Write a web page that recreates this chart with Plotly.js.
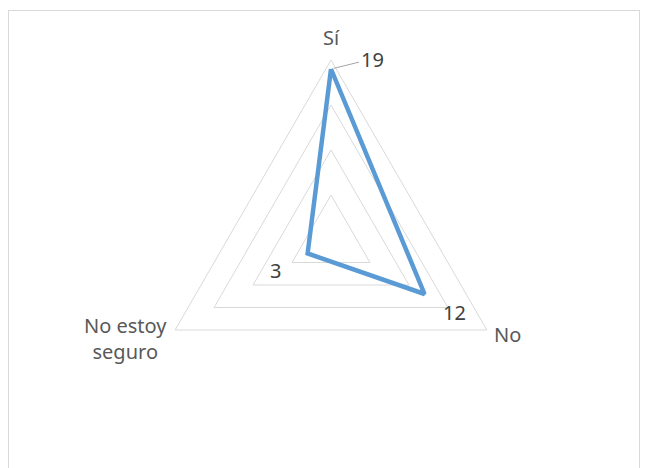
<!DOCTYPE html>
<html>
<head>
<meta charset="utf-8">
<script src="https://cdn.plot.ly/plotly-3.0.1.min.js"></script>
<style>
  html, body { margin: 0; padding: 0; background: #fff; }
  #wrap { position: relative; width: 647px; height: 468px; overflow: hidden; }
  #frame { position: absolute; left: 8px; top: 10px; width: 632px; height: 480px; border: 1px solid #d9d9d9; box-sizing: border-box; }
  #chart { position: absolute; left: 0; top: 0; width: 647px; height: 468px; }
</style>
</head>
<body>
<div id="wrap">
  <div id="frame"></div>
  <div id="chart"></div>
</div>
<script>
const categories = ["Sí", "No", "No estoy seguro"];
const tickLabels = ["Sí", "No", "No estoy<br>seguro"];
const values = [19, 12, 3];
const radialMax = 20;
const radialStep = 5;

// geometry (pixels) of the radar
const W = 647, H = 468;
const CX = 331, CY = 240, RPX = 180;

// styling offsets (pixels) for labels
const catLabelShift = [[0, 22], [21, -5], [-50, -8]];
const valLabelShift = [[41, -10], [30, 18], [-32, 17]];

const FONT = "Noto Sans, sans-serif";

function toPaper(i, v) {
  const ang = i * 2 * Math.PI / categories.length;
  const px = CX + RPX * (v / radialMax) * Math.sin(ang);
  const py = CY - RPX * (v / radialMax) * Math.cos(ang);
  return { x: px / W, y: 1 - py / H };
}

const thetaClosed = categories.concat([categories[0]]);
const rClosed = values.concat([values[0]]);

const trace = {
  type: "scatterpolar",
  r: rClosed,
  theta: thetaClosed,
  mode: "lines",
  line: { color: "#5B9BD5", width: 4.5 },
  hoverinfo: "skip"
};

const annotations = [];
categories.forEach((c, i) => {
  const p = toPaper(i, radialMax);
  annotations.push({
    xref: "paper", yref: "paper", x: p.x, y: p.y,
    text: tickLabels[i], showarrow: false,
    xanchor: "center", yanchor: "middle", align: "center",
    xshift: catLabelShift[i][0], yshift: catLabelShift[i][1],
    font: { family: FONT, size: 20, color: "#595959" }
  });
});
values.forEach((v, i) => {
  const p = toPaper(i, v);
  const a = {
    xref: "paper", yref: "paper", x: p.x, y: p.y,
    text: String(v),
    xanchor: "center", yanchor: "middle",
    font: { family: FONT, size: 20, color: "#404040" }
  };
  if (i === 0) {
    Object.assign(a, {
      showarrow: true, arrowhead: 0, arrowwidth: 1, arrowcolor: "#a6a6a6",
      ax: valLabelShift[i][0], ay: valLabelShift[i][1], standoff: 3
    });
  } else {
    Object.assign(a, {
      showarrow: false,
      xshift: valLabelShift[i][0], yshift: -valLabelShift[i][1]
    });
  }
  annotations.push(a);
});

const layout = {
  width: W,
  height: H,
  margin: { l: 0, r: 0, t: 0, b: 0 },
  paper_bgcolor: "rgba(0,0,0,0)",
  plot_bgcolor: "rgba(0,0,0,0)",
  showlegend: false,
  font: { family: FONT, size: 20, color: "#595959" },
  annotations: annotations,
  polar: {
    domain: { x: [(CX - RPX) / W, (CX + RPX) / W], y: [1 - (CY + RPX) / H, 1 - (CY - RPX) / H] },
    bgcolor: "rgba(0,0,0,0)",
    gridshape: "linear",
    radialaxis: {
      range: [0, radialMax],
      dtick: radialStep,
      showticklabels: false,
      ticks: "",
      showline: false,
      gridcolor: "#d9d9d9",
      gridwidth: 1
    },
    angularaxis: {
      type: "category",
      categoryarray: categories,
      rotation: 90,
      direction: "clockwise",
      showgrid: false,
      showline: true,
      linecolor: "#d9d9d9",
      linewidth: 1,
      ticks: "",
      showticklabels: false
    }
  }
};

Plotly.newPlot("chart", [trace], layout, { displayModeBar: false, staticPlot: true });
</script>
</body>
</html>
